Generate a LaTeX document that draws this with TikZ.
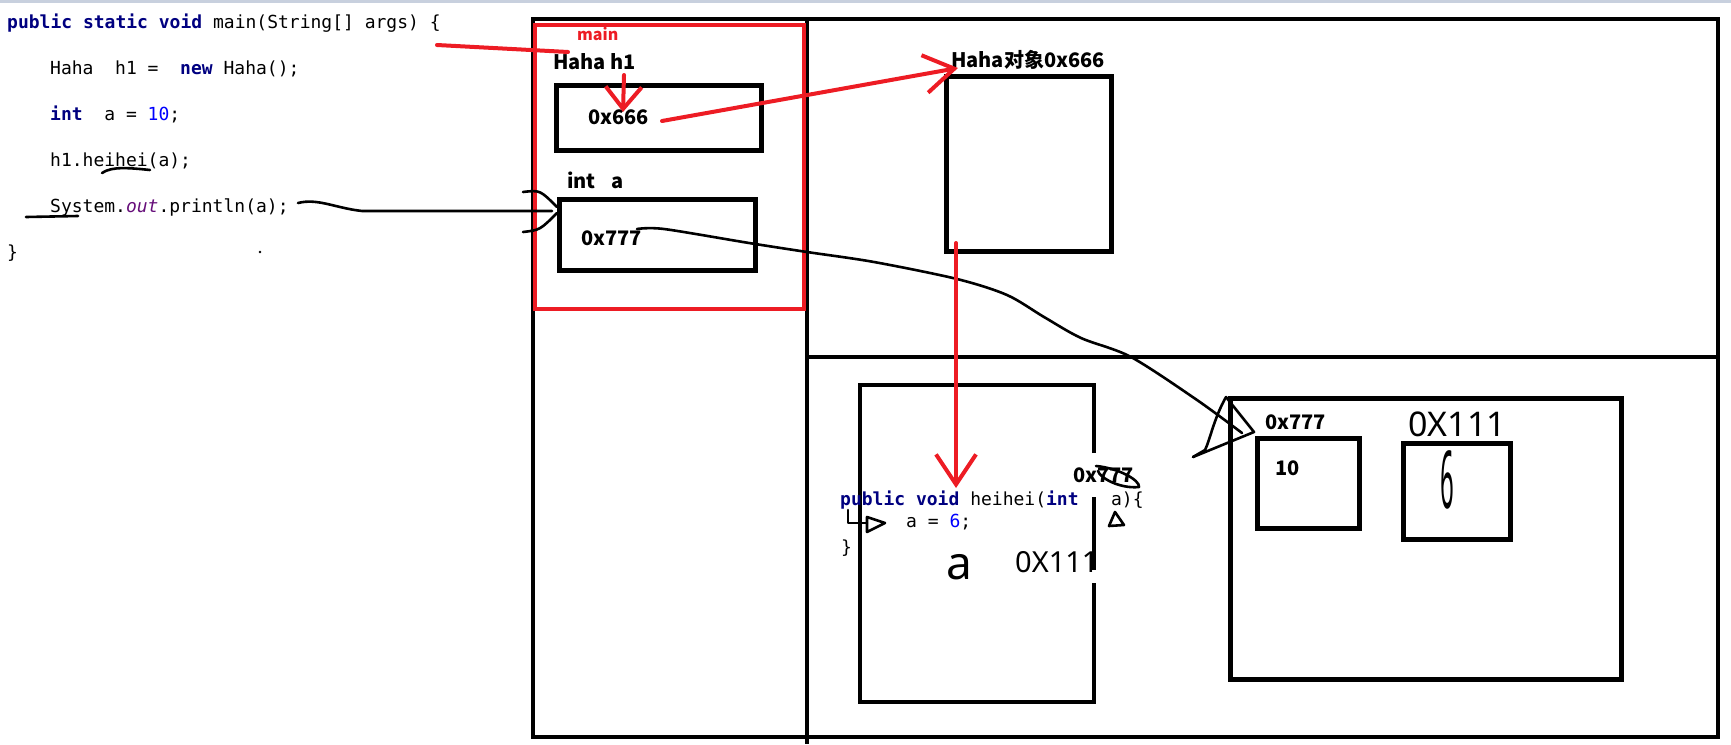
\documentclass[tikz,border=0pt]{standalone}
\usepackage{fontspec}
\newfontfamily\lblfont{Noto Sans CJK SC}
\newfontfamily\codefont{DejaVu Sans Mono}
\newfontfamily\handfont{Noto Sans}
\definecolor{PenRed}{RGB}{237,28,36}
\definecolor{KeyNavy}{RGB}{0,0,128}
\definecolor{NumBlue}{RGB}{0,0,255}
\definecolor{FieldPurple}{RGB}{102,14,122}
\definecolor{BarGrey}{RGB}{200,208,222}
\usetikzlibrary{arrows.meta,positioning,calc}
\newcommand{\jkw}[1]{{\color{KeyNavy}\bfseries #1}}
\newcommand{\jnum}[1]{{\color{NumBlue}#1}}
\newcommand{\jfld}[1]{{\color{FieldPurple}\itshape #1}}
\tikzset{
  frame/.style={draw=black,line width=4pt},
  cell/.style={draw=black,line width=4.5pt,inner sep=0pt,anchor=north west},
  redpen/.style={draw=PenRed,line width=4pt,line cap=round},
  ink/.style={draw=black,line width=2.6pt,line cap=round,line join=round},
  lbl/.style={inner sep=0pt,anchor=base west,font=\lblfont\bfseries\fontsize{20}{24}\selectfont},
  code/.style={inner sep=0pt,anchor=base west,font=\codefont\fontsize{18}{22}\selectfont},
  hand/.style={inner sep=0pt,anchor=base west,font=\handfont\fontsize{#1}{#1}\selectfont},
}

\begin{document}
\begin{tikzpicture}[x=1pt,y=-1pt]
\useasboundingbox (0,0) rectangle (1731,744);
\fill[BarGrey] (0,0) rectangle (1731,3);
% code of main
\node[code] (m1) at (7,28) {\jkw{public static void} main(String[] args) \{};
\node[code] (m2) at (50,74) {Haha\ \ h1 =\ \ \jkw{new} Haha();};
\node[code] (m3) at (50,120) {\jkw{int}\ \ a = \jnum{10};};
\node[code] (m4) at (50,166) {h1.heihei(a);};
\node[code] (m5) at (50,212) {System.\jfld{out}.println(a);};
\node[code] (m6) at (7,258) {\}};

% stack and heap
\draw[frame] (533,19) rectangle (1718,737);
\draw[frame] (807,19) -- (807,744);
\draw[frame] (807,357) -- (1718,357);

% main frame
\draw[redpen,line cap=butt] (535,25) rectangle (804,309);
\node[lbl,text=PenRed,font=\lblfont\bfseries\fontsize{16}{19}\selectfont] (mainlab) at (577,40) {main};
\node[lbl] (h1lab) at (553,69) {Haha h1};
\node[cell,minimum width=205pt,minimum height=65pt] (h1box) at (554,83) {};
\node[lbl] (h1val) at (588,124) {0x666};
\node[lbl] (alab) at (567,188) {int\hspace{16pt}a};
\node[cell,minimum width=196pt,minimum height=71pt] (abox) at (557,197) {};
\node[lbl] (aval) at (581,245) {0x777};

% the object
\node[lbl] (objlab) at (951,67) {Haha对象0x666};
\node[cell,minimum width=165pt,minimum height=175pt] (objbox) at (944,74) {};

% heihei frame
\draw[frame,line width=4.5pt] (1094,453) -- (1094,385) -- (860,385) -- (860,702) -- (1094,702) -- (1094,583);
\draw[frame,line width=4.5pt] (1094,497) -- (1094,570);
\node[code] (hsig) at (840,505) {\jkw{public void} heihei(\jkw{int}\ \ \ a)\{};
\node[code] (hset) at (906,527) {a = \jnum{6};};
\node[code] (hend) at (841,553) {\}};
\node[lbl] (hpar) at (1073,482) {0x777};
\node[hand=46] (hname) at (946,579) {a};
\node[hand=29] (hadr) at (1015,572) {0X111};

% values in the heap
\node[cell,minimum width=391pt,minimum height=281pt] (heapobj) at (1228,396) {};
\node[cell,minimum width=102pt,minimum height=90pt] (cellA) at (1255,436) {};
\node[cell,minimum width=107pt,minimum height=96pt] (cellB) at (1401,441) {};
\node[lbl] (cellAadr) at (1265,429) {0x777};
\node[lbl] (cellAval) at (1275,475) {10};
\node[hand=34] (cellBadr) at (1408,436) {0X111};
\node[hand=80] (cellBval) at (1440,508) {\scalebox{0.3}[1]{6}};

% ink marks
\draw[ink] (102,173) .. controls (112,166) and (130,168) .. (150,170);
\draw[ink] (26,217) -- (78,216);
\fill (260,252) circle (1.3);
\coordinate (printout) at (298,203);
\coordinate (abrace) at (552,211);
\draw[ink] (printout) .. controls (318,198) and (335,208) .. (362,211) -- (abrace);
\draw[ink] (523,192) .. controls (540,190) .. (557,207);
\draw[ink] (523,232) .. controls (540,230) .. (557,213);
\coordinate (valout) at (637,229);
\coordinate (heaptip) at (1242,433);
\draw[ink] plot[smooth,tension=0.5] coordinates {(valout) (664,229) (749,243) (807,252) (874,262) (957,279) (1007,295) (1044,317) (1081,338) (1131,357) (1197,400) (heaptip)};
\draw[ink] (1226,397) -- (1254,432) -- (1193,457);
\draw[ink] (1226,397) .. controls (1214,418) and (1210,440) .. (1205,450) -- (1193,457);
\draw[ink] (848,510) -- (848,523) -- (867,523);
\draw[ink] (867,517) -- (885,523) -- (867,532) -- cycle;
\draw[ink] (1115,512) -- (1109,526) -- (1124,525) -- cycle;
\draw[ink] (1096,466) .. controls (1118,468) and (1140,480) .. (1139,487) .. controls (1120,489) and (1100,478) .. (1098,471);

% red pen
\coordinate (brace) at (437,45);
\coordinate (mainin) at (568,52);
\draw[redpen] (brace) -- (mainin);
\coordinate (h1top) at (624,75);
\coordinate (h1tip) at (623,112);
\draw[redpen,-{Straight Barb[length=22pt,width=36pt]}] (h1top) -- (h1tip);
\coordinate (refout) at (662,121);
\coordinate (reftip) at (958,68);
\draw[redpen,-{Straight Barb[length=30pt,width=38pt]}] (refout) -- (reftip);
\coordinate (objout) at (956,243);
\coordinate (calltip) at (956,488);
\draw[redpen,-{Straight Barb[length=30pt,width=40pt]}] (objout) -- (calltip);
\end{tikzpicture}
\end{document}
